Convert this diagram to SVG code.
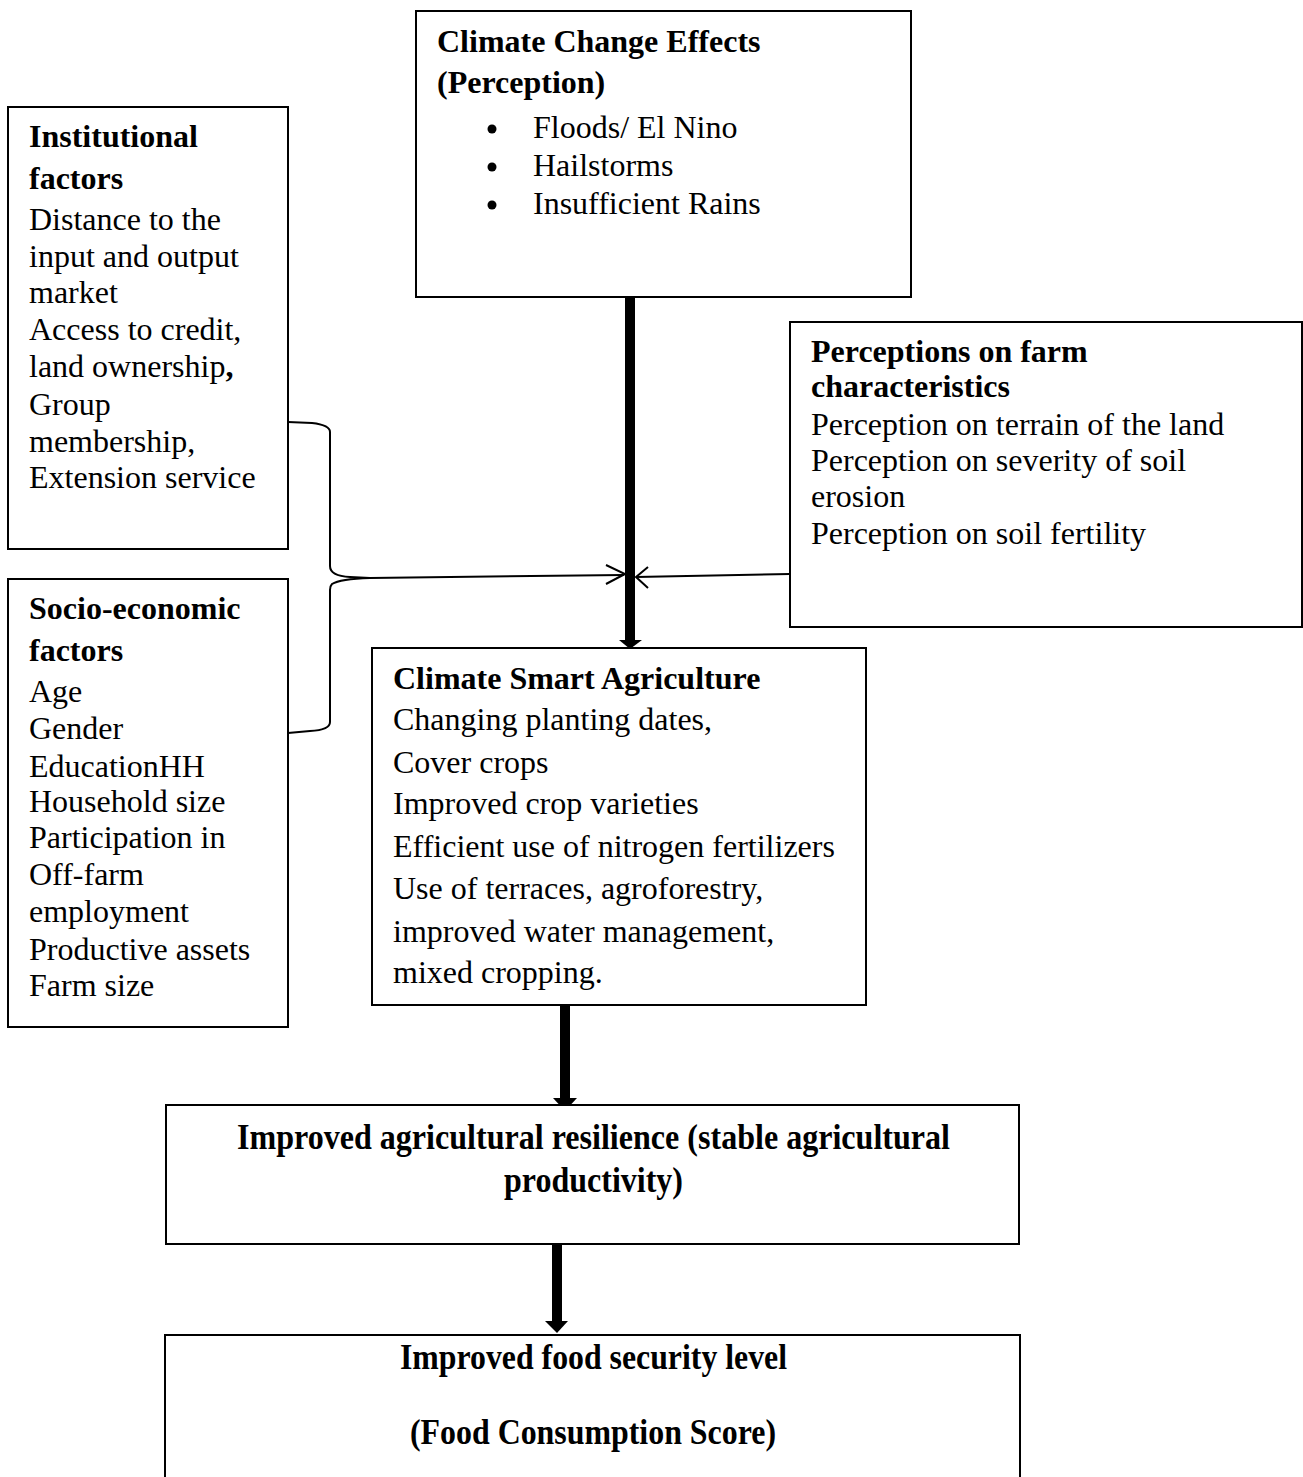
<svg xmlns="http://www.w3.org/2000/svg" width="1303" height="1477" viewBox="0 0 1303 1477">
<style>
  .box { fill: #ffffff; stroke: #000000; stroke-width: 2; }
  text { font-family: "Liberation Serif", "Times New Roman", serif; font-size: 32px; fill: #000000; }
  .b { font-weight: bold; }
  .tall { font-size: 36px; }
  .thin { fill: none; stroke: #000000; stroke-width: 2; }
  .thick { fill: none; stroke: #000000; stroke-width: 10; }
  .head { fill: #000000; stroke: none; }
</style>
<rect x="0" y="0" width="1303" height="1477" fill="#ffffff"/>

<g id="connectors">
  <path class="thick" d="M630,297 L630,641"/>
  <polygon class="head" points="619,640 642,640 630,649"/>
  <path class="thick" d="M565,1004 L565,1099"/>
  <polygon class="head" points="553,1098 577,1098 565,1111"/>
  <path class="thick" d="M557,1244 L557,1322"/>
  <polygon class="head" points="545,1321 568,1321 557,1333"/>
  <path class="thin" d="M288,422 L312,423 Q330,425 330,432 L330,566 Q330,576 350,577 L370,578 M370,578 Q340,579 332,584 Q330,586 330,590 L330,722 Q330,730 310,731 L288,733"/>
  <path class="thin" d="M370,578 L624,575"/>
  <path class="thin" d="M606,565 L625,574 L606,584"/>
  <path class="thin" d="M790,574 L636,577"/>
  <path class="thin" d="M648,567 L636,577 L648,588"/>
</g>

<g id="node-climate-effects">
  <rect class="box" x="416" y="11" width="495" height="286"/>
  <text class="b" x="437" y="52">Climate Change Effects</text>
  <text class="b" x="437" y="93">(Perception)</text>
  <circle cx="492" cy="129" r="4.5"/>
  <circle cx="492" cy="167" r="4.5"/>
  <circle cx="492" cy="205" r="4.5"/>
  <text x="533" y="138">Floods/ El Nino</text>
  <text x="533" y="176">Hailstorms</text>
  <text x="533" y="214">Insufficient Rains</text>
</g>

<g id="node-institutional">
  <rect class="box" x="8" y="107" width="280" height="442"/>
  <text class="b" x="29" y="147">Institutional</text>
  <text class="b" x="29" y="189">factors</text>
  <text x="29" y="230">Distance to the</text>
  <text x="29" y="267">input and output</text>
  <text x="29" y="303">market</text>
  <text x="29" y="340">Access to credit,</text>
  <text x="29" y="377">land ownership<tspan class="b">,</tspan></text>
  <text x="29" y="415">Group</text>
  <text x="29" y="452">membership,</text>
  <text x="29" y="488">Extension service</text>
</g>

<g id="node-socio">
  <rect class="box" x="8" y="579" width="280" height="448"/>
  <text class="b" x="29" y="619">Socio-economic</text>
  <text class="b" x="29" y="661">factors</text>
  <text x="29" y="702">Age</text>
  <text x="29" y="739">Gender</text>
  <text x="29" y="777">EducationHH</text>
  <text x="29" y="812">Household size</text>
  <text x="29" y="848">Participation in</text>
  <text x="29" y="885">Off-farm</text>
  <text x="29" y="922">employment</text>
  <text x="29" y="960">Productive assets</text>
  <text x="29" y="996">Farm size</text>
</g>

<g id="node-perceptions">
  <rect class="box" x="790" y="322" width="512" height="305"/>
  <text class="b" x="811" y="362">Perceptions on farm</text>
  <text class="b" x="811" y="397">characteristics</text>
  <text x="811" y="435">Perception on terrain of the land</text>
  <text x="811" y="471">Perception on severity of soil</text>
  <text x="811" y="507">erosion</text>
  <text x="811" y="544">Perception on soil fertility</text>
</g>

<g id="node-csa">
  <rect class="box" x="372" y="648" width="494" height="357"/>
  <text class="b" x="393" y="689">Climate Smart Agriculture</text>
  <text x="393" y="730">Changing planting dates,</text>
  <text x="393" y="773">Cover crops</text>
  <text x="393" y="814">Improved crop varieties</text>
  <text x="393" y="857">Efficient use of nitrogen fertilizers</text>
  <text x="393" y="899">Use of terraces, agroforestry,</text>
  <text x="393" y="942">improved water management,</text>
  <text x="393" y="983">mixed cropping.</text>
</g>

<g id="node-resilience">
  <rect class="box" x="166" y="1105" width="853" height="139"/>
  <text class="b tall" x="237" y="1149" textLength="713" lengthAdjust="spacingAndGlyphs">Improved agricultural resilience (stable agricultural</text>
  <text class="b tall" x="504" y="1192" textLength="179" lengthAdjust="spacingAndGlyphs">productivity)</text>
</g>

<g id="node-food-security">
  <rect class="box" x="165" y="1335" width="855" height="160"/>
  <text class="b tall" x="400" y="1369" textLength="387" lengthAdjust="spacingAndGlyphs">Improved food security level</text>
  <text class="b tall" x="410" y="1444" textLength="366" lengthAdjust="spacingAndGlyphs">(Food Consumption Score)</text>
</g>
</svg>
